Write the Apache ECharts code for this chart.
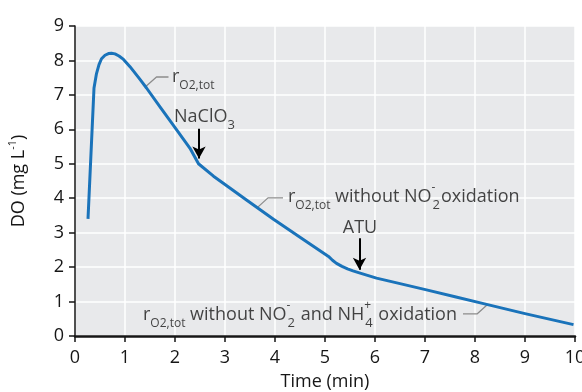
<!DOCTYPE html>
<html><head><meta charset="utf-8">
<script src="https://cdn.jsdelivr.net/npm/echarts@6/dist/echarts.min.js"></script>
<style>html,body{margin:0;padding:0;background:#fff}#c{width:582px;height:392px}</style>
</head><body><div id="c"></div>
<script>
// ---- data ----
const timeMin = [0.26, 0.38, 0.43, 0.48, 0.53, 0.6, 0.67, 0.73, 0.8, 0.88, 0.97, 1.1, 1.3, 1.43, 1.7, 2.03, 2.3, 2.47, 2.77, 3.0, 3.43, 3.97, 4.5, 5.07, 5.15, 5.23, 5.34, 5.45, 5.56, 5.67, 5.85, 6.03, 6.5, 7.03, 7.6, 8.17, 9.0, 9.97];
const doMgL   = [3.40, 7.20, 7.62, 7.88, 8.05, 8.15, 8.20, 8.21, 8.19, 8.13, 8.03, 7.82, 7.45, 7.20, 6.65, 5.99, 5.45, 5.00, 4.64, 4.40, 3.95, 3.39, 2.87, 2.31, 2.20, 2.11, 2.02, 1.95, 1.89, 1.84, 1.76, 1.68, 1.52, 1.34, 1.14, 0.94, 0.65, 0.33];
const xTickLabels = ['0','1','2','3','4','5','6','7','8','9','10'];
const yTickLabels = ['0','1','2','3','4','5','6','7','8','9'];

// annotation anchors (data units)
const leaderTot      = [[1.42, 7.25], [1.63, 7.52], [1.87, 7.52]];
const leaderNoNO2    = [[3.64, 3.72], [3.86, 4.01], [4.16, 4.01]];
const leaderNoNO2NH4 = [[7.76, 0.64], [8.04, 0.64], [8.24, 0.90]];
const arrowNaClO3 = [[2.48, 6.02], [2.48, 5.15]];
const arrowATU    = [[5.69, 2.84], [5.69, 1.92]];
const annoPos  = [[1.94, 7.52], [1.98, 6.37], [4.26, 4.04], [5.70, 3.14], [1.36, 0.61]];
const annoText = [
  '{m|r}{s|O2,tot}',
  '{m|NaClO}{s2|3}',
  '{m|r}{s|O2,tot}{m| without NO}{z|-}{s2|2}{m|oxidation}',
  '{m|ATU}',
  '{m|r}{s|O2,tot}{m| without NO}{z|-}{s2|2}{m| and NH}{z|+}{s2|4}{m| oxidation}'
];
const annoAlign = ['left','left','left','center','left'];

// ---- chart ----
const FONT = '"Open Sans", sans-serif';
const TXT = '#161616';
const rich = {
  m:  {fontFamily: FONT, fontSize: 18, color: TXT, lineHeight: 30, verticalAlign: 'middle'},
  s:  {fontFamily: FONT, fontSize: 12, color: TXT, lineHeight: 10, verticalAlign: 'bottom'},
  s2: {fontFamily: FONT, fontSize: 13, color: TXT, lineHeight: 10, verticalAlign: 'bottom', padding: [0, 1, 0, 0]},
  z:  {fontFamily: FONT, fontSize: 12, color: TXT, lineHeight: 20, verticalAlign: 'top', width: 1}
};

const chart = echarts.init(document.getElementById('c'), null, {renderer: 'canvas'});
const leaderStyle = {color: '#8c8c8c', width: 1.3};
function leaderSeries(pts) {
  return {type: 'line', data: pts, symbol: 'none', silent: true, lineStyle: leaderStyle, z: 3, animation: false};
}
chart.setOption({
  animation: false,
  backgroundColor: '#ffffff',
  grid: {left: 75, right: 7, top: 26, bottom: 56, containLabel: false, outerBoundsMode: 'none',
         show: true, backgroundColor: '#e8e9eb', borderWidth: 0},
  xAxis: {
    type: 'value', min: 0, max: 10, interval: 1,
    name: 'Time (min)', nameLocation: 'middle', nameGap: 37,
    nameTextStyle: {fontFamily: FONT, fontSize: 18, color: TXT},
    axisLine: {lineStyle: {color: TXT, width: 2.5}},
    axisTick: {length: 6, lineStyle: {color: TXT, width: 1.5}},
    axisLabel: {margin: 13, fontFamily: FONT, fontSize: 18, color: TXT, formatter: v => xTickLabels[Math.round(v)]},
    splitLine: {show: true, lineStyle: {color: '#ffffff', width: 1.5}}
  },
  yAxis: {
    type: 'value', min: 0, max: 9, interval: 1,
    name: '{n|DO (mg L}{p|-1}{n|)}', nameLocation: 'middle', nameGap: 44,
    nameTextStyle: {rich: {
      n: {fontFamily: FONT, fontSize: 18, color: TXT, lineHeight: 24, verticalAlign: 'middle'},
      p: {fontFamily: FONT, fontSize: 11, color: TXT, lineHeight: 16, verticalAlign: 'top'}
    }},
    axisLine: {show: true, lineStyle: {color: TXT, width: 1.5}},
    axisTick: {show: true, length: 6, lineStyle: {color: TXT, width: 1.5}},
    axisLabel: {margin: 11, fontFamily: FONT, fontSize: 18, color: TXT, formatter: v => yTickLabels[Math.round(v)]},
    splitLine: {show: true, lineStyle: {color: '#ffffff', width: 1.5}}
  },
  series: [
    {
      type: 'line', data: timeMin.map((t, i) => [t, doMgL[i]]),
      symbol: 'none', smooth: false, z: 4,
      lineStyle: {color: '#1a73ba', width: 3, join: 'round'},
      markLine: {
        silent: true, symbol: ['none', 'arrow'], symbolSize: [10, 12], animation: false,
        lineStyle: {color: '#000000', width: 2, type: 'solid'},
        label: {show: false},
        data: [
          [{coord: arrowNaClO3[0]}, {coord: arrowNaClO3[1]}],
          [{coord: arrowATU[0]}, {coord: arrowATU[1]}]
        ]
      }
    },
    leaderSeries(leaderTot),
    leaderSeries(leaderNoNO2),
    leaderSeries(leaderNoNO2NH4),
    {
      type: 'scatter', symbolSize: 0, silent: true, z: 6,
      data: annoPos.map((p, i) => ({
        value: p,
        label: {
          show: true,
          position: annoAlign[i] === 'center' ? 'inside' : 'right',
          distance: 0,
          formatter: annoText[i],
          rich: rich
        }
      }))
    }
  ]
});
</script>
</body></html>
